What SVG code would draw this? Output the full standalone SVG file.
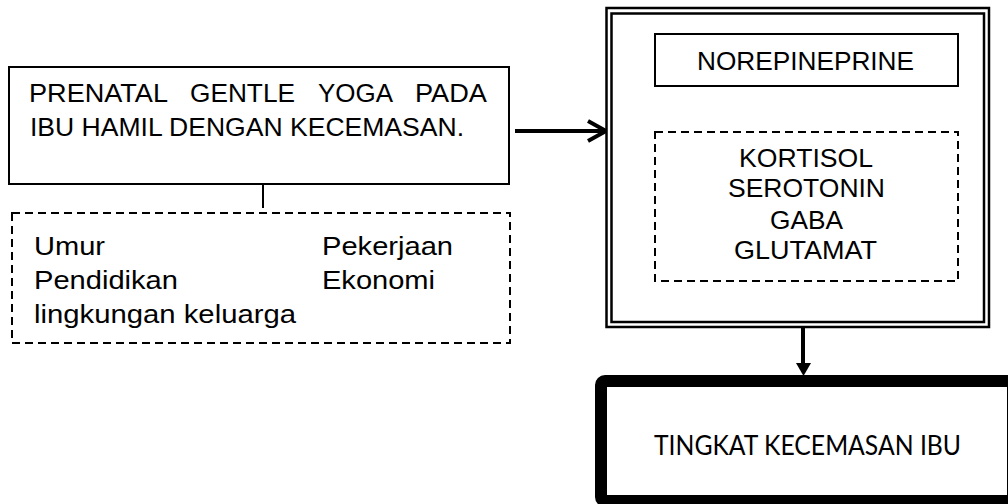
<svg xmlns="http://www.w3.org/2000/svg" width="1008" height="504" viewBox="0 0 1008 504">
<style>
.t{font-family:"Liberation Sans",Arial,sans-serif;font-size:25px;fill:#000}
.c{text-anchor:middle}
.box{fill:#fff;stroke:#000;stroke-width:2}
.dash{fill:#fff;stroke:#000;stroke-width:2;stroke-dasharray:8 5}
.conn{stroke:#000;fill:none}
</style>
<rect width="1008" height="504" fill="#fff"/>
<g id="connectors">
<line class="conn" x1="263" y1="184" x2="263" y2="208" stroke-width="2"/>
<line class="conn" x1="515" y1="131" x2="604" y2="131" stroke-width="4"/>
<polyline class="conn" points="588,121 606,131 588,141" stroke-width="4"/>
<line class="conn" x1="803" y1="328" x2="803" y2="364" stroke-width="4"/>
<polygon points="796,363 811,363 803.5,376" fill="#000"/>
</g>
<g id="yoga">
<rect class="box" x="9" y="67" width="500" height="117"/>
<text class="t" x="29" y="102" textLength="139" lengthAdjust="spacingAndGlyphs">PRENATAL</text>
<text class="t" x="190" y="102" textLength="105" lengthAdjust="spacingAndGlyphs">GENTLE</text>
<text class="t" x="318" y="102" textLength="75" lengthAdjust="spacingAndGlyphs">YOGA</text>
<text class="t" x="415" y="102" textLength="72" lengthAdjust="spacingAndGlyphs">PADA</text>
<text class="t" x="30" y="136" textLength="434" lengthAdjust="spacingAndGlyphs">IBU HAMIL DENGAN KECEMASAN.</text>
</g>
<g id="faktor">
<rect class="dash" x="12" y="213" width="498" height="130"/>
<text class="t" x="34" y="255" textLength="71" lengthAdjust="spacingAndGlyphs">Umur</text>
<text class="t" x="34" y="289" textLength="144" lengthAdjust="spacingAndGlyphs">Pendidikan</text>
<text class="t" x="34" y="323" textLength="262" lengthAdjust="spacingAndGlyphs">lingkungan keluarga</text>
<text class="t" x="322" y="255" textLength="131" lengthAdjust="spacingAndGlyphs">Pekerjaan</text>
<text class="t" x="322" y="289" textLength="113" lengthAdjust="spacingAndGlyphs">Ekonomi</text>
</g>
<g id="mekanisme">
<rect x="606.5" y="8" width="382.5" height="319" fill="#fff" stroke="#000" stroke-width="2.5"/>
<rect x="611.5" y="13.5" width="372.5" height="308.5" fill="none" stroke="#000" stroke-width="2.5"/>
</g>
<g id="norepinephrine">
<rect class="box" x="655" y="34" width="303" height="52"/>
<text class="t" x="697" y="70" textLength="217" lengthAdjust="spacingAndGlyphs">NOREPINEPRINE</text>
</g>
<g id="hormon">
<rect class="dash" x="655" y="132" width="303" height="149"/>
<text class="t" x="739" y="167" textLength="134" lengthAdjust="spacingAndGlyphs">KORTISOL</text>
<text class="t" x="728" y="197" textLength="157" lengthAdjust="spacingAndGlyphs">SEROTONIN</text>
<text class="t" x="770" y="229" textLength="73" lengthAdjust="spacingAndGlyphs">GABA</text>
<text class="t" x="734" y="259" textLength="143" lengthAdjust="spacingAndGlyphs">GLUTAMAT</text>
</g>
<g id="kecemasan">
<rect x="601" y="381" width="412" height="120" rx="4" fill="#fff" stroke="#000" stroke-width="12"/>
<text x="654" y="455" textLength="307" lengthAdjust="spacingAndGlyphs" style="font-family:Lato,'Open Sans',sans-serif;font-size:26px;fill:#000">TINGKAT KECEMASAN IBU</text>
</g>
</svg>
